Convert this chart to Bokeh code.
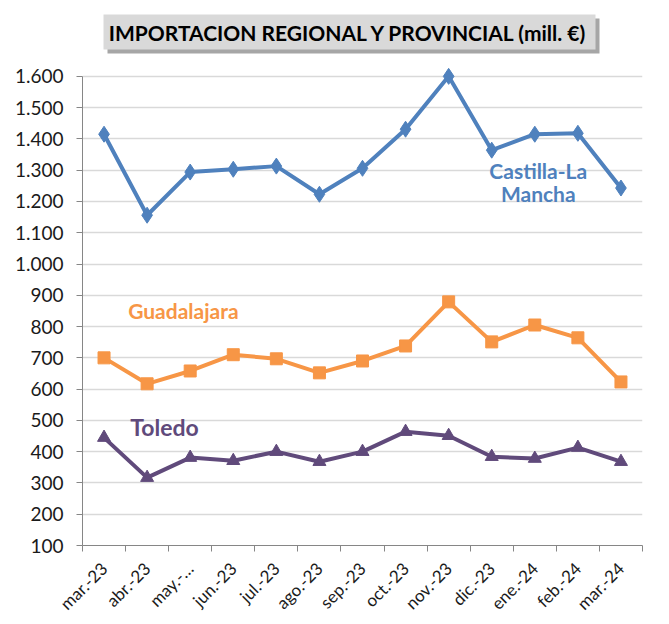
import math
from bokeh.plotting import figure
from bokeh.models import FixedTicker, Label, Range1d, BoxAnnotation
from bokeh.embed import file_html
from bokeh.resources import INLINE

months = ["mar.-23", "abr.-23", "may.-\u2026", "jun.-23", "jul.-23", "ago.-23", "sep.-23",
          "oct.-23", "nov.-23", "dic.-23", "ene.-24", "feb.-24", "mar.-24"]
castilla = [1415, 1156, 1294, 1303, 1313, 1223, 1306, 1431, 1600, 1364, 1415, 1418, 1243]
guadalajara = [700, 617, 658, 710, 697, 652, 690, 738, 879, 751, 805, 764, 623]
toledo = [445, 317, 381, 371, 400, 368, 400, 464, 451, 384, 378, 413, 368]
y_ticks = [100, 200, 300, 400, 500, 600, 700, 800, 900, 1000, 1100, 1200, 1300, 1400, 1500, 1600]
y_tick_labels = ["100", "200", "300", "400", "500", "600", "700", "800", "900",
                 "1.000", "1.100", "1.200", "1.300", "1.400", "1.500", "1.600"]
title_text = "IMPORTACION REGIONAL Y PROVINCIAL (mill. \u20ac)"

FONT = "Lato"
xs = list(range(len(months)))

# geometry: value axis occupies 470px of a 546px-high frame; the extra room on top holds the title
y_lo, y_hi = y_ticks[0], y_ticks[-1]
frame_h, axis_h = 546, 470
y_top = y_lo + (y_hi - y_lo) * frame_h / axis_h

p = figure(width=661, height=624, output_backend="svg", toolbar_location=None,
           x_range=Range1d(-0.5, len(months) - 0.5), y_range=Range1d(y_lo, y_top),
           min_border_left=82, min_border_right=19, min_border_top=0, min_border_bottom=78)
p.outline_line_color = None
p.background_fill_color = "white"

# y axis
p.yaxis.bounds = (y_lo, y_hi)
p.yaxis.ticker = FixedTicker(ticks=y_ticks, minor_ticks=[])
p.yaxis.major_label_overrides = {t: l for t, l in zip(y_ticks, y_tick_labels)}
p.yaxis.axis_line_color = "#868686"
p.yaxis.major_tick_line_color = "#868686"
p.yaxis.major_tick_out = 6
p.yaxis.major_tick_in = 0
p.yaxis.minor_tick_line_color = None
p.yaxis.major_label_text_font = FONT
p.yaxis.major_label_text_font_size = "19px"
p.yaxis.major_label_text_color = "#1a1a1a"
p.yaxis.major_label_standoff = 13

# x axis
boundaries = [i - 0.5 for i in range(len(months) + 1)]
p.xaxis.ticker = FixedTicker(ticks=xs, minor_ticks=boundaries)
p.xaxis.major_label_overrides = {i: m for i, m in zip(xs, months)}
p.xaxis.major_label_orientation = math.pi / 4
p.xaxis.axis_line_color = "#868686"
p.xaxis.major_tick_line_color = None
p.xaxis.minor_tick_line_color = "#868686"
p.xaxis.minor_tick_out = 6
p.xaxis.minor_tick_in = 0
p.xaxis.major_label_text_font = FONT
p.xaxis.major_label_text_font_size = "17px"
p.xaxis.major_label_text_color = "#1a1a1a"
p.xaxis.major_label_standoff = 14

p.xgrid.grid_line_color = None
p.ygrid.ticker = FixedTicker(ticks=y_ticks)
p.ygrid.grid_line_color = "#d9d9d9"
p.ygrid.grid_line_width = 1.5

blue, orange, purple = "#4F81BD", "#F79646", "#604A7B"

p.line(xs, castilla, line_width=4, color=blue)
p.scatter(xs, castilla, marker="diamond", size=16, color=blue)
p.line(xs, guadalajara, line_width=4, color=orange)
p.scatter(xs, guadalajara, marker="square", size=12, color=orange)
p.line(xs, toledo, line_width=4, color=purple)
p.scatter(xs, toledo, marker="triangle", size=13, color=purple)

def lab(x, y, text, color, size="21px", align="center"):
    p.add_layout(Label(x=x, y=y, text=text, text_color=color, text_font=FONT,
                       text_font_style="bold", text_font_size=size,
                       text_align=align, text_baseline="middle"))

lab(10.08, 1300, "Castilla-La", blue)
lab(10.08, 1227, "Mancha", blue)
lab(0.56, 850, "Guadalajara", orange, align="left")
lab(0.61, 480, "Toledo", purple, size="23px", align="left")

# title box with shadow (screen units, relative to the plot frame, y upward)
p.add_layout(BoxAnnotation(left=25, right=517, top=527, bottom=492,
                           left_units="screen", right_units="screen",
                           top_units="screen", bottom_units="screen",
                           fill_color="#a6a6a6", fill_alpha=1, line_color=None))
p.add_layout(BoxAnnotation(left=21, right=513, top=531, bottom=496,
                           left_units="screen", right_units="screen",
                           top_units="screen", bottom_units="screen",
                           fill_color="#d9d9d9", fill_alpha=1, line_color=None))
p.add_layout(Label(x=266, y=513, x_units="screen", y_units="screen",
                   text=title_text, text_color="#000000",
                   text_font=FONT, text_font_style="bold", text_font_size="21px",
                   text_align="center", text_baseline="middle"))

open("out.html", "w").write(file_html(p, INLINE))
